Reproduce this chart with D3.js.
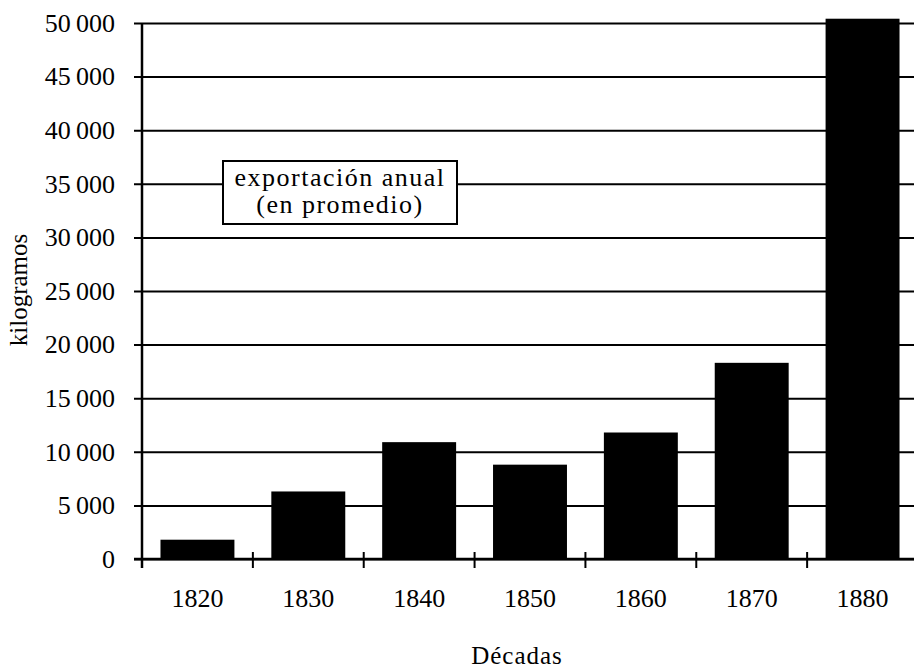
<!DOCTYPE html>
<html>
<head>
<meta charset="utf-8">
<script src="https://cdn.jsdelivr.net/npm/d3@7"></script>
<style>
  body { margin: 0; background: #fff; }
  text { font-family: "Liberation Serif", "DejaVu Serif", serif; fill: #000; }
</style>
</head>
<body>
<svg id="chart" width="914" height="671"></svg>
<script>
// decades and average yearly export (kg)
var decades = ["1820", "1830", "1840", "1850", "1860", "1870", "1880"];
var kilos = [1800, 6300, 10900, 8800, 11800, 18300, 50400];
var yTicks = [0, 5000, 10000, 15000, 20000, 25000, 30000, 35000, 40000, 45000, 50000];
var legendLines = ["exportación anual", "(en promedio)"];

var plotLeft = 142, plotRight = 918, plotTop = 23, plotBottom = 559;

var svg = d3.select("#chart");

var x = d3.scaleBand()
    .domain(decades)
    .range([plotLeft, plotRight])
    .paddingInner(0.333)
    .paddingOuter(0.1667);

var y = d3.scaleLinear().domain([0, 50000]).range([plotBottom, plotTop]);

var fmt = function(d) {
    return d3.format(",")(d).replace(/,/g, "\u2009");
};

// gridlines + y labels
var yAxis = svg.append("g")
    .attr("transform", "translate(" + (plotLeft - 8) + ",0)")
    .call(d3.axisLeft(y).tickValues(yTicks).tickFormat(fmt)
        .tickSize(-(plotRight - plotLeft + 8)).tickPadding(19));
yAxis.select(".domain").remove();
yAxis.selectAll(".tick line").attr("stroke", "#000").attr("stroke-width", 2);
yAxis.selectAll(".tick text")
    .style("font-family", "'Liberation Serif', serif")
    .style("font-size", "26px")
    .attr("fill", "#000");

// bars
svg.append("g").selectAll("rect")
    .data(decades)
    .enter()
    .append("rect")
    .attr("x", function(d) { return x(d); })
    .attr("width", x.bandwidth())
    .attr("y", function(d, i) { return y(kilos[i]); })
    .attr("height", function(d, i) { return plotBottom - y(kilos[i]); })
    .attr("fill", "#000");

// y axis line
svg.append("line")
    .attr("x1", plotLeft).attr("x2", plotLeft)
    .attr("y1", plotTop).attr("y2", plotBottom + 9)
    .attr("stroke", "#000").attr("stroke-width", 2.5);

// x baseline + separator ticks
svg.append("line")
    .attr("x1", plotLeft - 8).attr("x2", plotRight)
    .attr("y1", plotBottom).attr("y2", plotBottom)
    .attr("stroke", "#000").attr("stroke-width", 2.5);
svg.append("g").selectAll("line")
    .data(decades)
    .enter()
    .append("line")
    .attr("x1", function(d) { return x(d) + x.bandwidth() + x.step() * x.paddingInner() / 2; })
    .attr("x2", function(d) { return x(d) + x.bandwidth() + x.step() * x.paddingInner() / 2; })
    .attr("y1", plotBottom - 7).attr("y2", plotBottom + 9)
    .attr("stroke", "#000").attr("stroke-width", 2);

// x labels
var xAxis = svg.append("g")
    .attr("transform", "translate(0," + plotBottom + ")")
    .call(d3.axisBottom(x).tickSize(0).tickPadding(30));
xAxis.select(".domain").remove();
xAxis.selectAll(".tick text")
    .style("font-family", "'Liberation Serif', serif")
    .style("font-size", "26px")
    .attr("fill", "#000");

// axis titles
svg.append("text")
    .attr("x", 517).attr("y", 664)
    .attr("text-anchor", "middle")
    .style("font-size", "25px")
    .style("letter-spacing", "1px")
    .text("Décadas");
svg.append("text")
    .attr("transform", "translate(27,290) rotate(-90)")
    .attr("text-anchor", "middle")
    .style("font-size", "25px")
    .text("kilogramos");

// legend box
svg.append("rect")
    .attr("x", 223).attr("y", 161)
    .attr("width", 234).attr("height", 63)
    .attr("fill", "#fff").attr("stroke", "#000").attr("stroke-width", 2);
svg.append("g").selectAll("text")
    .data(legendLines)
    .enter()
    .append("text")
    .attr("x", 340)
    .attr("y", function(d, i) { return 186 + i * 27; })
    .attr("text-anchor", "middle")
    .style("font-size", "26px")
    .style("letter-spacing", "1.5px")
    .text(function(d) { return d; });
</script>
</body>
</html>
